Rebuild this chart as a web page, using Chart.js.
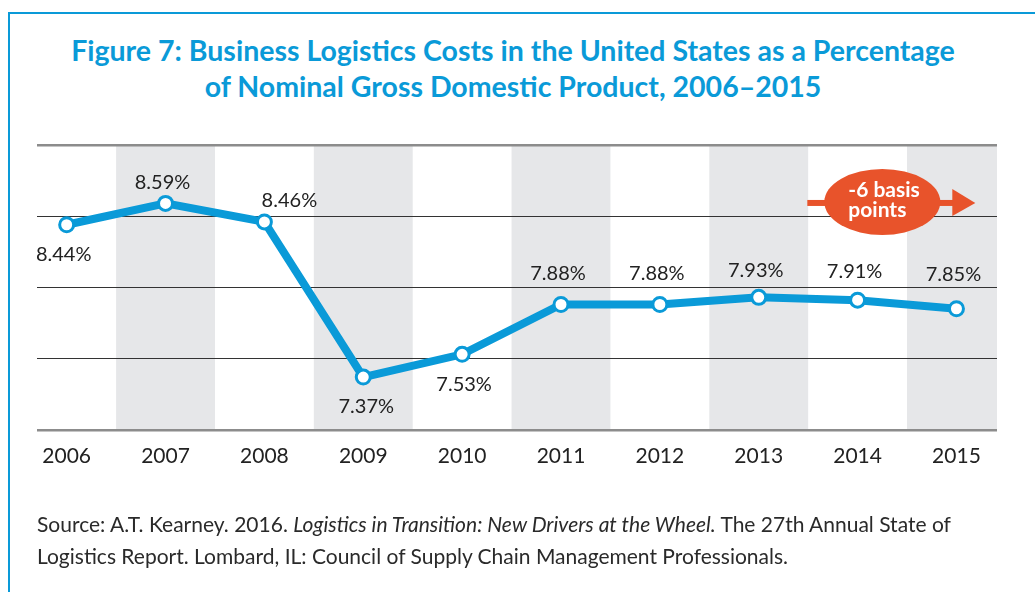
<!DOCTYPE html>
<html>
<head>
<meta charset="utf-8">
<script src="https://cdn.jsdelivr.net/npm/chart.js@4"></script>
<style>
  body { margin: 0; background: #fff; }
  #wrap { position: relative; width: 1035px; height: 592px; overflow: hidden; }
  #frame { position: absolute; left: 8px; top: 12px; width: 1100px; height: 700px;
           border-left: 2px solid #0a9ad8; border-top: 2px solid #0a9ad8; }
  #title { position: absolute; left: 0; top: 32px; width: 1026px; text-align: center;
           font: bold 28.5px Lato, sans-serif; color: #0a9ad8; line-height: 36px; }
  #source { position: absolute; left: 37px; top: 508px; width: 995px;
            font: 21px Lato, sans-serif; color: #2a2a2a; line-height: 32px; }
  canvas { position: absolute; left: 0; top: 0; }
</style>
</head>
<body>
<div id="wrap">
  <div id="frame"></div>
  <div id="title">Figure 7: Business Logistics Costs in the United States as a Percentage<br>of Nominal Gross Domestic Product, 2006–2015</div>
  <canvas id="chart" width="1035" height="592"></canvas>
  <div id="source">Source: A.T. Kearney. 2016. <i>Logistics in Transition: New Drivers at the Wheel.</i> The 27th Annual State of<br>Logistics Report. Lombard, IL: Council of Supply Chain Management Professionals.</div>
</div>
<script>
const years = [2006, 2007, 2008, 2009, 2010, 2011, 2012, 2013, 2014, 2015];
const costPct = [8.44, 8.59, 8.46, 7.37, 7.53, 7.88, 7.88, 7.93, 7.91, 7.85];
const yTicks = [7, 7.5, 8, 8.5, 9];

// label offsets from each point (px)
const labelOffsets = [[-3, 30], [-3, -21], [25, -21], [3, 29], [2, 30],
                      [-3, -31], [-3, -31], [-3, -27], [-3, -29], [-3, -34]];

const blue = "#0a9ad8";
const orange = "#e8532b";

// grey columns behind every other year
const bandsPlugin = {
  id: "bands",
  beforeDraw(chart) {
    const { ctx, chartArea: a, scales: { x } } = chart;
    ctx.save();
    ctx.fillStyle = "#e6e7e9";
    years.forEach((yr, i) => {
      if (i % 2 === 0) return;
      const l = Math.max(a.left, x.getPixelForValue(yr - 0.5));
      const r = Math.min(a.right, x.getPixelForValue(yr + 0.5));
      ctx.fillRect(l, a.top, r - l, a.bottom - a.top);
    });
    ctx.restore();
  }
};

const labelsPlugin = {
  id: "valueLabels",
  afterDatasetsDraw(chart) {
    const { ctx } = chart;
    const pts = chart.getDatasetMeta(0).data;
    ctx.save();
    ctx.font = "20px Lato, sans-serif";
    ctx.fillStyle = "#222";
    ctx.textAlign = "center";
    ctx.textBaseline = "middle";
    pts.forEach((p, i) => {
      const [dx, dy] = labelOffsets[i];
      ctx.fillText(costPct[i].toFixed(2) + "%", p.x + dx, p.y + dy);
    });
    ctx.restore();
  }
};

// "-6 basis points" callout
const calloutPlugin = {
  id: "callout",
  afterDraw(chart) {
    const { ctx, scales: { x, y } } = chart;
    const cx = x.getPixelForValue(2014.25);
    const cy = y.getPixelForValue(8.6);
    ctx.save();
    ctx.fillStyle = orange;
    ctx.fillRect(cx - 75, cy - 2, 150, 6);
    ctx.beginPath();
    ctx.moveTo(cx + 70, cy - 13);
    ctx.lineTo(cx + 93, cy + 1);
    ctx.lineTo(cx + 70, cy + 14);
    ctx.closePath();
    ctx.fill();
    ctx.beginPath();
    ctx.ellipse(cx, cy, 58, 33, 0, 0, Math.PI * 2);
    ctx.fill();
    ctx.fillStyle = "#fff";
    ctx.font = "bold 21px Lato, sans-serif";
    ctx.textAlign = "left";
    ctx.textBaseline = "alphabetic";
    ctx.fillText("-6 basis", cx - 34, cy - 5);
    ctx.fillText("points", cx - 34, cy + 15);
    ctx.restore();
  }
};

new Chart(document.getElementById("chart"), {
  type: "line",
  data: {
    datasets: [{
      data: years.map((yr, i) => ({ x: yr, y: costPct[i] })),
      borderColor: blue,
      borderWidth: 8,
      pointRadius: 7,
      pointBorderWidth: 3,
      pointBackgroundColor: "#fff",
      pointBorderColor: blue,
      tension: 0
    }]
  },
  options: {
    responsive: false,
    animation: false,
    layout: { padding: { left: 37, right: 38, top: 145, bottom: 117 } },
    plugins: { legend: { display: false }, tooltip: { enabled: false } },
    scales: {
      x: {
        type: "linear",
        min: 2005.7,
        max: 2015.41,
        afterBuildTicks: s => { s.ticks = years.map(v => ({ value: v })); },
        grid: { display: false },
        border: { display: false },
        ticks: {
          callback: v => String(v),
          color: "#222",
          font: { family: "Lato, sans-serif", size: 21 },
          padding: 6,
          maxRotation: 0
        }
      },
      y: {
        min: 7,
        max: 9,
        afterBuildTicks: s => { s.ticks = yTicks.map(v => ({ value: v })); },
        ticks: { display: false },
        border: { display: false },
        grid: {
          drawTicks: false,
          color: c => (c.tick.value === 7 || c.tick.value === 9) ? "#8c8c8c" : "#333",
          lineWidth: c => (c.tick.value === 7 || c.tick.value === 9) ? 2.5 : 1
        }
      }
    }
  },
  plugins: [bandsPlugin, labelsPlugin, calloutPlugin]
});
</script>
</body>
</html>
